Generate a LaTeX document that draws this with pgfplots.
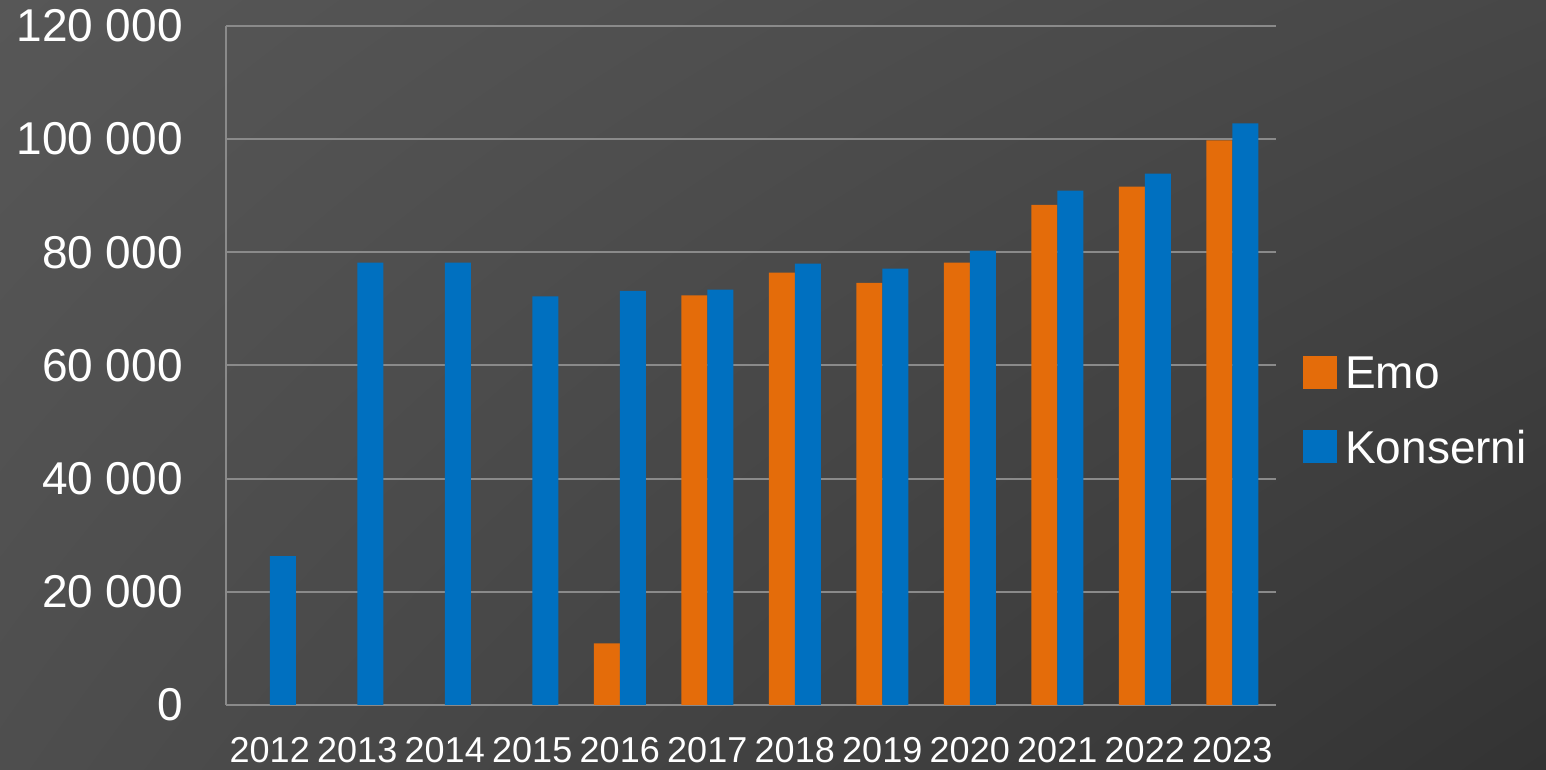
\documentclass[border=0pt]{standalone}
\usepackage{pgfplots}
\pgfplotsset{compat=1.18}
\usetikzlibrary{shadings}
\usepackage{fontspec}
\setmainfont{Liberation Sans}
\definecolor{bgTL}{HTML}{575757}
\definecolor{bgTR}{HTML}{474747}
\definecolor{bgBL}{HTML}{4E4E4E}
\definecolor{bgBR}{HTML}{333333}
\definecolor{emo}{HTML}{E46C0A}
\definecolor{kons}{HTML}{0070C0}
\definecolor{gridc}{HTML}{8A8A8A}
\begin{document}
\begin{tikzpicture}[x=1bp,y=1bp]
\shade[upper left=bgTL, upper right=bgTR, lower left=bgBL, lower right=bgBR] (0,0) rectangle (1546,770);
\begin{axis}[
  at={(226bp,65bp)}, anchor=south west,
  scale only axis, width=1050bp, height=679bp,
  ybar=0pt, bar width=26bp,
  xmin=-0.5, xmax=11.5, ymin=0, ymax=120000,
  xtick={0,1,2,3,4,5,6,7,8,9,10,11},
  xticklabels={2012,2013,2014,2015,2016,2017,2018,2019,2020,2021,2022,2023},
  ytick={0,20000,40000,60000,80000,100000,120000},
  yticklabels={0,{20 000},{40 000},{60 000},{80 000},{100 000},{120 000}},
  scaled y ticks=false,
  axis line style={draw=gridc, line width=2bp},
  axis x line*=bottom, axis y line*=left,
  x axis line style={-}, y axis line style={-},
  ymajorgrids, grid style={draw=gridc, line width=2bp},
  major tick length=0pt,
  yticklabel style={font=\fontsize{46bp}{52bp}\selectfont, text=white, inner sep=0pt, anchor=east, xshift=-43bp},
  xticklabel style={font=\fontsize{36bp}{42bp}\selectfont, text=white, inner sep=0pt, anchor=north, yshift=-32bp},
  legend style={at={(rel axis cs:1.0257,0.434)}, anchor=west, draw=none, fill=none, text=white,
    font=\fontsize{46bp}{52bp}\selectfont, row sep=40bp, inner sep=0pt,
    nodes={inner sep=0pt}},
  legend image code/.code={\fill[#1] (0bp,-16bp) rectangle (34bp,17bp); \path (42bp,0bp);},
  legend cell align=left,
]
\addplot[fill=emo, draw=none] coordinates {(4,10900) (5,72400) (6,76400) (7,74600) (8,78200) (9,88400) (10,91600) (11,99800)};
\addplot[fill=kons, draw=none] coordinates {(0,26300) (1,78200) (2,78200) (3,72200) (4,73200) (5,73400) (6,78000) (7,77100) (8,80300) (9,90900) (10,93900) (11,102800)};
\legend{Emo,Konserni}
\end{axis}
\pgfresetboundingbox
\useasboundingbox (0,0) rectangle (1546,770);
\end{tikzpicture}
\end{document}
